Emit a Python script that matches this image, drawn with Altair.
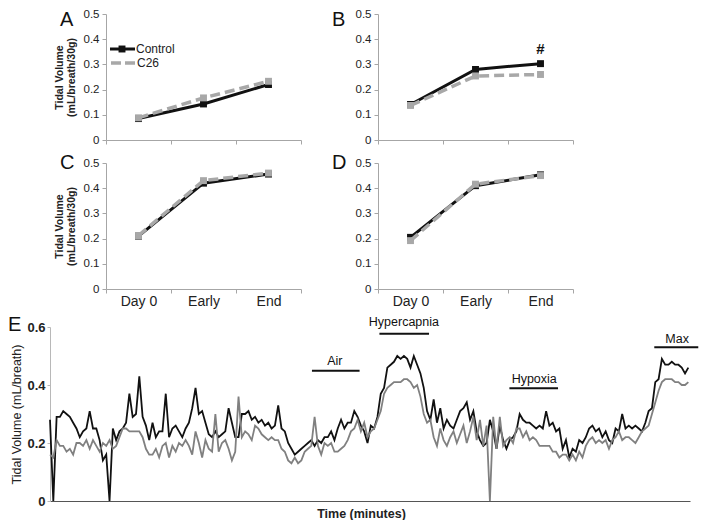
import altair as alt
import pandas as pd

# ---------------- data ----------------
timepoints = ["Day 0", "Early", "End"]
series_names = ["Control", "C26"]

a_control = [0.085, 0.143, 0.220]
a_c26 = [0.088, 0.167, 0.233]
b_control = [0.141, 0.280, 0.303]
b_c26 = [0.137, 0.254, 0.260]
c_control = [0.210, 0.420, 0.456]
c_c26 = [0.212, 0.430, 0.460]
d_control = [0.205, 0.410, 0.453]
d_c26 = [0.192, 0.416, 0.450]

trace_control = [
    0.28, 0.0, 0.29, 0.29, 0.31, 0.30, 0.29, 0.27, 0.25, 0.22,
    0.24, 0.25, 0.31, 0.25, 0.25, 0.21, 0.14, 0.16, 0.0, 0.25,
    0.21, 0.24, 0.25, 0.27, 0.37, 0.29, 0.30, 0.43, 0.29, 0.26,
    0.21, 0.27,
    0.22, 0.24, 0.24, 0.37, 0.22, 0.25, 0.26, 0.24, 0.22, 0.25,
    0.27, 0.32, 0.39, 0.30, 0.31, 0.27, 0.23, 0.22, 0.24, 0.22,
    0.23, 0.24, 0.32, 0.27, 0.22, 0.22, 0.30, 0.30, 0.31, 0.28,
    0.29, 0.27, 0.28, 0.26, 0.27, 0.25, 0.26, 0.33, 0.25, 0.24,
    0.20, 0.18, 0.16, 0.17, 0.18, 0.19, 0.20, 0.21, 0.19, 0.21,
    0.20, 0.22, 0.22, 0.24, 0.21, 0.25, 0.28, 0.25, 0.27, 0.27, 0.31,
    0.29, 0.26, 0.24, 0.20, 0.26, 0.25, 0.29, 0.37, 0.39, 0.46,
    0.47, 0.48, 0.50, 0.49, 0.50, 0.49, 0.46, 0.50, 0.47, 0.44,
    0.39, 0.31, 0.28, 0.35, 0.27, 0.32, 0.25, 0.28, 0.26, 0.25, 0.28, 0.31,
    0.32, 0.34, 0.28, 0.31, 0.24, 0.21, 0.19, 0.20, 0.28, 0.24,
    0.18, 0.26, 0.21, 0.18, 0.21, 0.22, 0.24, 0.30, 0.28, 0.27,
    0.27, 0.26, 0.25, 0.26, 0.25, 0.31, 0.26, 0.27, 0.24, 0.25, 0.18,
    0.21, 0.15, 0.18, 0.17, 0.21, 0.20, 0.22, 0.25, 0.26, 0.24,
    0.25, 0.22, 0.24, 0.21, 0.20, 0.25, 0.24, 0.30, 0.25, 0.26,
    0.25, 0.26, 0.25, 0.24, 0.27, 0.31, 0.32, 0.41, 0.42, 0.49,
    0.47, 0.47, 0.48, 0.47, 0.47, 0.46, 0.44, 0.46,
]
trace_c26 = [
    0.16, 0.15, 0.21, 0.19, 0.19, 0.17, 0.18, 0.16, 0.20, 0.20,
    0.19, 0.21, 0.18, 0.21, 0.19, 0.17, 0.20, 0.19, 0.21, 0.18,
    0.19, 0.22, 0.25, 0.25, 0.24, 0.24, 0.24, 0.24, 0.22, 0.18,
    0.16, 0.16,
    0.18, 0.15, 0.19, 0.20, 0.15, 0.19, 0.17, 0.20, 0.19, 0.21,
    0.19, 0.16, 0.24, 0.20, 0.15, 0.21, 0.18, 0.17, 0.30, 0.17,
    0.20, 0.21, 0.18, 0.14, 0.17, 0.36, 0.22, 0.24, 0.23, 0.21,
    0.26, 0.25, 0.23, 0.22, 0.21, 0.22, 0.21, 0.21, 0.18, 0.17,
    0.14, 0.13, 0.15, 0.13, 0.14, 0.17, 0.18, 0.19, 0.29, 0.19,
    0.16, 0.20, 0.19, 0.20, 0.17, 0.17, 0.18, 0.19, 0.21, 0.24, 0.25,
    0.28, 0.24, 0.27, 0.22, 0.24, 0.25, 0.28, 0.31, 0.37, 0.39,
    0.40, 0.41, 0.41, 0.41, 0.42, 0.42, 0.41, 0.39, 0.40, 0.36,
    0.30, 0.27, 0.28, 0.22, 0.19, 0.25, 0.21, 0.19, 0.22, 0.24, 0.20, 0.23,
    0.26, 0.20, 0.24, 0.29, 0.21, 0.28, 0.19, 0.26, 0.0, 0.29,
    0.18, 0.29, 0.19, 0.21, 0.22, 0.20, 0.25, 0.25, 0.22, 0.24,
    0.21, 0.22, 0.21, 0.19, 0.19, 0.19, 0.19, 0.17, 0.17, 0.15, 0.16,
    0.16, 0.14, 0.16, 0.14, 0.17, 0.15, 0.19, 0.21, 0.22, 0.20,
    0.21, 0.20, 0.21, 0.18, 0.21, 0.22, 0.24, 0.21, 0.22, 0.22,
    0.21, 0.20, 0.22, 0.24, 0.25, 0.26, 0.30, 0.34, 0.38, 0.41,
    0.42, 0.42, 0.42, 0.41, 0.41, 0.40, 0.40, 0.41,
]

ann_names = ["Air", "Hypercapnia", "Hypoxia", "Max"]
ann_start = [79.2, 99.6, 138.9, 182.7]
ann_end = [93.6, 114.6, 153.6, 196.0]
ann_center = [86.1, 107.0, 146.4, 189.6]
ann_bar = [0.449, 0.577, 0.389, 0.53]
ann_label = [0.484, 0.617, 0.419, 0.56]

FONT = "Liberation Sans"
BLACK = "#111111"
LIGHT = "#a8a8a8"
AXIS_GRAY = "#a6a6a6"
PW, PH = 195, 126
ONE = pd.DataFrame({"k": [0]})


def small_panel(ctrl, c26, letter, x_labels, y_title, legend=False, hash_mark=False):
    df = pd.DataFrame({
        "Timepoint": timepoints * 2,
        "Group": [series_names[0]] * 3 + [series_names[1]] * 3,
        "Value": ctrl + c26,
    })
    base = alt.Chart(df)
    x = alt.X("Timepoint:N", sort=timepoints,
              scale=alt.Scale(type="band", paddingInner=0, paddingOuter=0),
              axis=alt.Axis(title=None, labels=x_labels, tickBand="extent", labelAngle=0,
                            labelFontSize=14, labelPadding=1, tickSize=4))
    y = alt.Y("Value:Q", scale=alt.Scale(domain=[0, 0.5], nice=False),
              axis=alt.Axis(values=[0, 0.1, 0.2, 0.3, 0.4, 0.5], format="~g",
                            title=(["Tidal Volume", "(mL/breath/30g)"] if y_title else None),
                            titleFontWeight="bold", titleFontSize=10.5, titleLineHeight=12,
                            titlePadding=7, labelFontSize=11.5, tickSize=4, labelPadding=3))
    ctrl_f = base.transform_filter(alt.datum.Group == series_names[0])
    c26_f = base.transform_filter(alt.datum.Group == series_names[1])
    layers = [
        ctrl_f.mark_line(color=BLACK, strokeWidth=3).encode(x=x, y=y),
        ctrl_f.mark_point(shape="square", filled=True, size=48, color=BLACK, opacity=1).encode(x=x, y=y),
        c26_f.mark_line(color=LIGHT, strokeWidth=3.5, strokeDash=[10, 5]).encode(x=x, y=y),
        c26_f.mark_point(shape="square", filled=True, size=48, color=LIGHT, opacity=1).encode(x=x, y=y),
    ]
    layers.append(alt.Chart(ONE).mark_text(fontSize=20, align="left", baseline="middle",
                                           color="#111").encode(
        x=alt.value(-46), y=alt.value(6 if letter in "AB" else 0), text=alt.value(letter)))
    if legend:
        layers += [
            alt.Chart(ONE).mark_rule(color=BLACK, strokeWidth=3).encode(
                x=alt.value(4), x2=alt.value(29), y=alt.value(35)),
            alt.Chart(ONE).mark_point(shape="square", filled=True, size=48, color=BLACK, opacity=1).encode(
                x=alt.value(16), y=alt.value(35)),
            alt.Chart(ONE).mark_text(align="left", baseline="middle", fontSize=12, color="#222").encode(
                x=alt.value(30), y=alt.value(35), text=alt.value(series_names[0])),
            alt.Chart(ONE).mark_rule(color=LIGHT, strokeWidth=3.5, strokeDash=[10, 4]).encode(
                x=alt.value(5), x2=alt.value(29), y=alt.value(49)),
            alt.Chart(ONE).mark_text(align="left", baseline="middle", fontSize=12, color="#222").encode(
                x=alt.value(31), y=alt.value(49), text=alt.value(series_names[1])),
        ]
    if hash_mark:
        hdf = pd.DataFrame({"Timepoint": ["End"], "Value": [0.36], "t": ["#"]})
        layers.append(alt.Chart(hdf).mark_text(fontSize=15, fontWeight="bold", color="#111").encode(
            x=x, y=y, text="t:N"))
    return alt.layer(*layers).properties(width=PW, height=PH)


def spacer():
    return alt.Chart(ONE).mark_point(opacity=0, size=1).encode(
        x=alt.value(0), y=alt.value(0)).properties(width=36, height=PH)


A = small_panel(a_control, a_c26, "A", False, True, legend=True)
B = small_panel(b_control, b_c26, "B", False, False, hash_mark=True)
C = small_panel(c_control, c_c26, "C", True, True)
D = small_panel(d_control, d_c26, "D", True, False)

# ---------------- panel E ----------------
EW, EH = 640, 174
n = len(trace_control)
edf = pd.DataFrame({
    "t": list(range(n)) * 2,
    "Group": [series_names[0]] * n + [series_names[1]] * n,
    "Value": trace_control + trace_c26,
})
xscale = alt.Scale(domain=[0, 193.5], nice=False, zero=False)
yscale = alt.Scale(domain=[0, 0.6], nice=False)
ex = alt.X("t:Q", scale=xscale,
           axis=alt.Axis(title="Time (minutes)", labels=False, ticks=False, domainColor="#555555",
                         domainWidth=1.2, titleFontWeight="bold", titleFontSize=12.5, titlePadding=6,
                         titleX=311))
ey = alt.Y("Value:Q", scale=yscale,
           axis=alt.Axis(values=[0, 0.2, 0.4, 0.6], format="~g", labelFontWeight="bold",
                         labelFontSize=13, title="Tidal Volume (mL/breath)", titleFontWeight="normal",
                         titleFontSize=12.5, titlePadding=3, tickSize=3, domainColor="#b8b8b8",
                         tickColor="#b8b8b8"))
ebase = alt.Chart(edf)
e_ctrl = ebase.transform_filter(alt.datum.Group == series_names[0]).mark_line(
    color=BLACK, strokeWidth=1.8).encode(x=ex, y=ey)
e_c26 = ebase.transform_filter(alt.datum.Group == series_names[1]).mark_line(
    color="#808080", strokeWidth=1.8).encode(x=ex, y=ey)

adf = pd.DataFrame({"name": ann_names, "start": ann_start, "end": ann_end,
                    "center": ann_center, "bar": ann_bar, "label": ann_label})
a_rules = alt.Chart(adf).mark_rule(color="#111", strokeWidth=2).encode(
    x=alt.X("start:Q", scale=xscale), x2="end:Q", y=alt.Y("bar:Q", scale=yscale))
a_text = alt.Chart(adf).mark_text(fontSize=12.5, color="#111", baseline="middle").encode(
    x="center:Q", y="label:Q", text="name:N")
e_letter = alt.Chart(ONE).mark_text(
    fontSize=20, align="left", baseline="middle", color="#111").encode(
    x=alt.value(-42), y=alt.value(-2), text=alt.value("E"))

E = alt.layer(e_ctrl, e_c26, a_rules, a_text, e_letter).properties(width=EW, height=EH)

row1 = alt.hconcat(spacer(), alt.hconcat(A, B, spacing=77, bounds="flush"), spacing=20, bounds="flush")
row2 = alt.hconcat(spacer(), alt.hconcat(C, D, spacing=77, bounds="flush"), spacing=20, bounds="flush")
chart = alt.vconcat(row1, row2, E, spacing=7).properties(
    padding={"left": 0, "top": 0, "right": 0, "bottom": 0}
).configure(font=FONT).configure_view(stroke=None).configure_axis(
    grid=False, domainColor=AXIS_GRAY, tickColor=AXIS_GRAY, labelColor="#222",
    titleColor="#222", labelFont=FONT, titleFont=FONT
)

chart.save("out.html", embed_options={"renderer": "svg", "actions": False})
